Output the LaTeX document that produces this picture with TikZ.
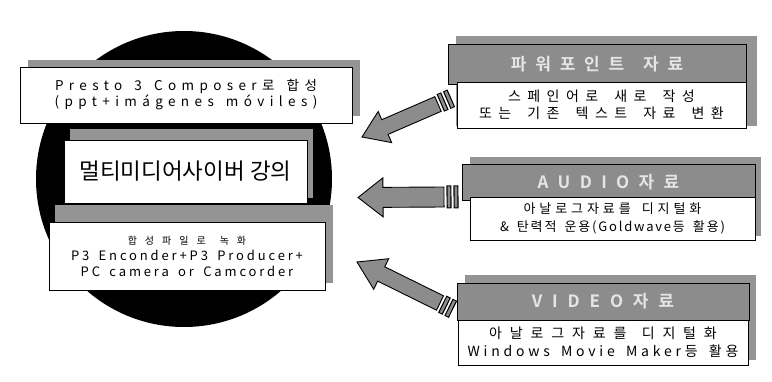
\documentclass[tikz,border=0pt]{standalone}
\usepackage{fontspec}
\setmainfont{Noto Sans CJK KR}
\newfontfamily\krbold{Noto Sans CJK KR Bold}
\newcommand{\lsp}[2]{\addfontfeatures{LetterSpace=#1}\spaceskip=#2em\relax}
\usetikzlibrary{calc}
\tikzset{
  box/.style={draw=black, line width=0.9pt, fill=white, inner sep=0pt, align=center},
  shadowfill/.style={fill=black!42},
  header/.style={draw=black, line width=0.8pt, fill=black!45, inner sep=0pt, text=white!90!black, align=center},
  arrowbody/.style={fill=black!45, draw=black, line width=0.9pt, line join=miter},
}
\newcommand{\blockarrow}[5]{%
  \coordinate (hb) at ($(#2)!#3!(#1)$);
  \draw[arrowbody] (#2) -- ($(hb)!#4!90:(#2)$) -- ($(hb)!#5!90:(#2)$)
     -- ($(#1)!#5!90:(#2)$) -- ($(#1)!#5!-90:(#2)$) -- ($(hb)!#5!-90:(#2)$)
     -- ($(hb)!#4!-90:(#2)$) -- cycle;
  \foreach \d in {5pt,12pt}{
    \coordinate (sc) at ($(#1)!\d!180:(#2)$);
    \draw[line width=5pt] ($(sc)!#5+1.5pt!90:(#2)$) -- ($(sc)!#5+1.5pt!-90:(#2)$);
    \draw[line width=2.6pt, black!45] ($(sc)!#5+0.5pt!90:(#2)$) -- ($(sc)!#5+0.5pt!-90:(#2)$);
  }
}
\begin{document}
\begin{tikzpicture}[x=1pt,y=-1pt]
\useasboundingbox (0,0) rectangle (772,382);
\fill[white] (0,0) rectangle (772,382);

% central disc
\node[circle, fill=black, minimum size=296pt, inner sep=0pt] (disc) at (184,179) {};

% shadows on the left
\fill[shadowfill] (28,60) rectangle (360,116);
\fill[shadowfill] (70,129) rectangle (313,198);
\fill[shadowfill] (55,205) rectangle (333,283);

% left boxes
\node[box, minimum width=332pt, minimum height=56pt, font={\fontsize{13.5pt}{16pt}\selectfont\lsp{40}{0.9}}] (compose) at (186,95)
  {Presto 3 Composer로 합성\\(ppt+imágenes móviles)};
\node[box, minimum width=243pt, minimum height=63pt, font={\fontsize{22.5pt}{26pt}\selectfont}] (lecture) at (185.5,171.5)
  {멀티미디어사이버 강의};
\node[box, minimum width=276pt, minimum height=68pt, font={\fontsize{13pt}{16pt}\selectfont\lsp{22}{0.72}}] (record) at (187,256)
  {{\fontsize{10pt}{16pt}\selectfont\lsp{80}{1.4}합성파일로 녹화}\\P3 Enconder+P3 Producer+\\PC camera or Camcorder};

% right group 1
\fill[shadowfill] (456,36) rectangle (757,126);
\node[header, minimum width=298pt, minimum height=40pt, font={\krbold\fontsize{17pt}{20pt}\selectfont\lsp{52}{1.1}}] (ppt) at (597,64)
  {파워포인트 자료};
\node[box, minimum width=289pt, minimum height=46pt, font={\fontsize{14pt}{17pt}\selectfont\lsp{46}{1.15}}] (pptd) at (601.5,105)
  {스페인어로 새로 작성\\또는 기존 텍스트 자료 변환};

% right group 2
\fill[shadowfill] (470,157) rectangle (761,236);
\node[header, minimum width=293pt, minimum height=36pt, font={\krbold\fontsize{17pt}{20pt}\selectfont\addfontfeatures{LetterSpace=55}}] (audio) at (608.5,182)
  {AUDIO자료};
\node[box, minimum width=285pt, minimum height=43pt, font={\fontsize{13pt}{18pt}\selectfont}] (audiod) at (612.5,218.5)
  {{\lsp{30}{0.85}아날로그자료를 디지털화}\\{\lsp{14}{0.62}\& 탄력적 운용(Goldwave등 활용)}};

% right group 3
\fill[shadowfill] (465,275) rectangle (756,360);
\node[header, minimum width=292pt, minimum height=37pt, font={\krbold\fontsize{17pt}{20pt}\selectfont\addfontfeatures{LetterSpace=58}}] (video) at (603,301.5)
  {VIDEO자료};
\node[box, minimum width=290pt, minimum height=45pt, font={\fontsize{14pt}{18pt}\selectfont}] (videod) at (603,342.5)
  {{\lsp{56}{1.1}아날로그자료를 디지털화}\\{\lsp{27}{0.8}Windows Movie Maker등 활용}};

% arrows
\coordinate (t1) at (438,104);
\coordinate (p1) at (362,137);
\coordinate (t2) at (444,197);
\coordinate (p2) at (358,197.5);
\coordinate (t3) at (440,303);
\coordinate (p3) at (357,262);
\blockarrow{t1}{p1}{25pt}{17pt}{8pt}
\blockarrow{t2}{p2}{25pt}{19.5pt}{10pt}
\blockarrow{t3}{p3}{27pt}{17pt}{8pt}
\end{tikzpicture}
\end{document}
